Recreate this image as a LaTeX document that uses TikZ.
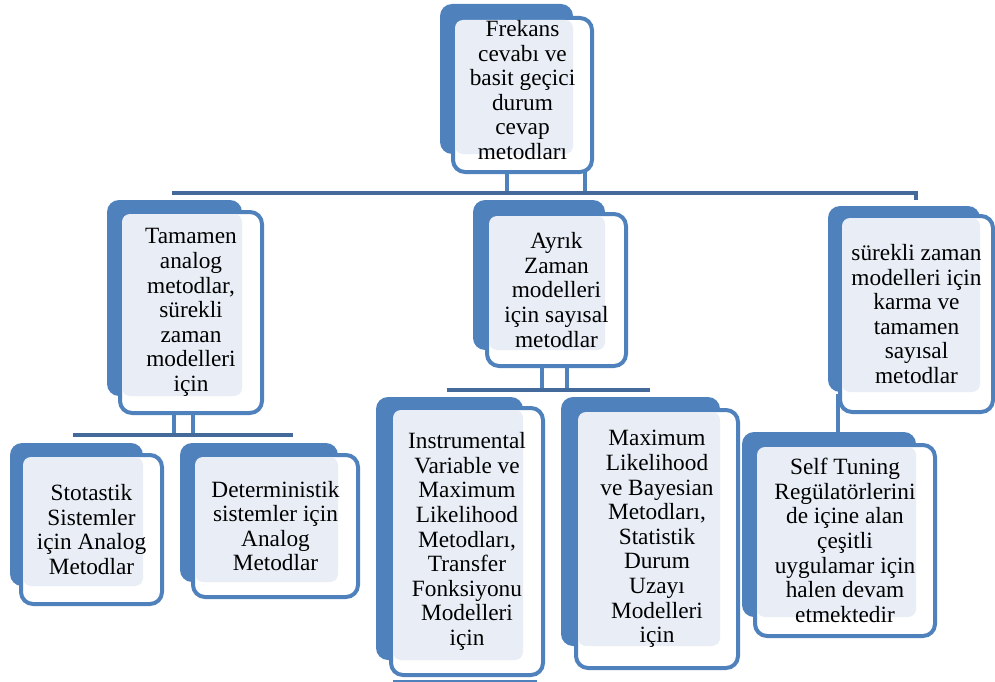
\documentclass[tikz,border=0pt]{standalone}
\usepackage{fontspec}
\setmainfont{Liberation Serif}
\usetikzlibrary{calc}
\definecolor{accent}{HTML}{4F81BD}
\definecolor{busblue}{HTML}{44699B}
\definecolor{tint}{HTML}{E9EEF6}
\tikzset{
  backfill/.style={fill=accent, rounded corners=12pt},
  frontbox/.style={draw=accent, line width=4pt, fill=white, rounded corners=12pt},
  lightfill/.style={fill=tint, rounded corners=8pt},
  boxtext/.style={align=center, inner sep=0pt, font=\fontsize{23.3}{24.6}\selectfont},
  link/.style={draw=accent, line width=4.5pt},
  bus/.style={draw=busblue, line width=4.5pt},
}
% #1 text options, #2 name, #3/#4 back corners, #5/#6 front corners, #7 text
\newcommand\blockbox[7][]{%
  \fill[backfill] #3 rectangle #4;
  \draw[frontbox] #5 rectangle #6;
  \fill[lightfill] ($#5+(2,2)$) rectangle #4;
  \path #5 coordinate (#2-nw) #6 coordinate (#2-se);
  \node[boxtext,#1] (#2) at ($#5!0.5!#6$) {#7};
}
\begin{document}
\begin{tikzpicture}[x=1pt,y=-1pt]
\useasboundingbox (0,0) rectangle (995,682);

% bus coordinates
\coordinate (busTop) at (172,193);
\coordinate (busTopEnd) at (916,193);
\coordinate (busA) at (73,435);
\coordinate (busAEnd) at (293,435);
\coordinate (busB) at (447,390);
\coordinate (busBEnd) at (650,390);

% connectors under the root
\draw[link] (507,170) -- (507,170 |- busTop);
\draw[link] (585,170) -- (585,170 |- busTop);
\draw[bus] (busTop) -- (busTopEnd) -- ++(0,7);

% connectors under the analog node
\draw[link] (174,410) -- (174,410 |- busA);
\draw[link] (193,410) -- (193,410 |- busA);
\draw[bus, line width=3.5pt] (busA) -- (busAEnd);

% connectors under the discrete node
\draw[link] (542,364) -- (542,364 |- busB);
\draw[link] (567,364) -- (567,364 |- busB);
\draw[bus, line width=4pt] (busB) -- (busBEnd);

% connector under the mixed node
\coordinate (mixDown) at (838,394);
\coordinate (tuneUp) at (838,432);
\draw[link, line width=4pt] (mixDown) -- (tuneUp);

% strip along the bottom edge
\draw[accent, line width=2pt] (393,680.5) -- (537,680.5);

% text in the root box sits a little above its centre
\blockbox[yshift=5pt]{root}{(440,4)}{(573,154)}{(453,18)}{(592,172)}
  {Frekans\\cevabı ve\\basit geçici\\durum\\cevap\\metodları}

\blockbox{analog}{(107,200)}{(242,396)}{(120,212)}{(262,413)}
  {Tamamen\\analog\\metodlar,\\sürekli\\zaman\\modelleri\\için}

\blockbox{discrete}{(473,200)}{(605,350)}{(487,214)}{(626,366)}
  {Ayrık\\Zaman\\modelleri\\için sayısal\\metodlar}

\blockbox{mixed}{(828,206)}{(980,392)}{(840,216)}{(993,412)}
  {sürekli zaman\\modelleri için\\karma ve\\tamamen\\sayısal\\metodlar}

\blockbox{stoch}{(10,443)}{(143,586)}{(21,455)}{(162,604)}
  {Stotastik\\Sistemler\\için Analog\\Metodlar}

\blockbox{determ}{(180,443)}{(338,582)}{(193,455)}{(358,597)}
  {Deterministik\\sistemler için\\Analog\\Metodlar}

\blockbox{instr}{(376,397)}{(523,660)}{(391,408)}{(543,675)}
  {Instrumental\\Variable ve\\Maximum\\Likelihood\\Metodları,\\Transfer\\Fonksiyonu\\Modelleri\\için}

\blockbox{maxlik}{(561,397)}{(720,646)}{(576,410)}{(738,668)}
  {Maximum\\Likelihood\\ve Bayesian\\Metodları,\\Statistik\\Durum\\Uzayı\\Modelleri\\için}

\blockbox{tuning}{(742,432)}{(916,617)}{(755,445)}{(935,636)}
  {Self Tuning\\Regülatörlerini\\de içine alan\\çeşitli\\uygulamar için\\halen devam\\etmektedir}
\end{tikzpicture}
\end{document}
